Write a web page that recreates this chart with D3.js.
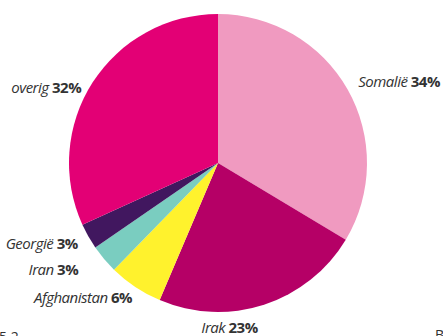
<!DOCTYPE html>
<html>
<head>
<meta charset="utf-8">
<script src="https://cdn.jsdelivr.net/npm/d3@7/dist/d3.min.js"></script>
<style>
html,body{margin:0;padding:0;background:#fff;overflow:hidden;}
svg{display:block;}
text{font-family:"Open Sans",sans-serif;fill:#333;}
</style>
</head>
<body>
<svg id="chart" width="443" height="336"></svg>
<script>
// Data
const categories = ["Somalië", "Irak", "Afghanistan", "Iran", "Georgië", "overig"];
const values = [33.6, 22.8, 5.9, 3.1, 2.8, 31.8];
const colors = ["#f09ac0", "#b50066", "#fff22d", "#7acdc0", "#41175f", "#e30075"];

// Label placement (polar: angle in degrees clockwise from 12 o'clock, radius, anchor)
const labelLayout = {
  "Somalië":     {angle: 60,    r: 162, anchor: "start"},
  "Irak":        {angle: 176,   r: 165, anchor: "middle"},
  "Afghanistan": {angle: 212.5, r: 160, anchor: "end"},
  "Iran":        {angle: 232.6, r: 176, anchor: "end"},
  "Georgië":     {angle: 240,   r: 162, anchor: "end"},
  "overig":      {angle: 298.7, r: 156, anchor: "end"}
};

const cx = 218, cy = 163, radius = 149;
const svg = d3.select("#chart");
const g = svg.append("g").attr("transform", `translate(${cx},${cy})`);

const data = categories.map((c, i) => ({name: c, value: values[i], color: colors[i]}));
const pie = d3.pie().value(d => d.value).sort(null);
const arc = d3.arc().innerRadius(0).outerRadius(radius);
const arcs = pie(data);

g.selectAll("path.slice").data(arcs).enter().append("path")
  .attr("class", "slice")
  .attr("d", arc)
  .attr("fill", d => d.data.color);

const total = d3.sum(values);
const lbl = g.selectAll("text.lbl").data(arcs).enter().append("text")
  .attr("class", "lbl")
  .attr("font-size", 15)
  .attr("letter-spacing", -0.5)
  .attr("text-anchor", d => labelLayout[d.data.name].anchor)
  .attr("x", d => { const L = labelLayout[d.data.name]; return L.r * Math.sin(L.angle * Math.PI / 180); })
  .attr("y", d => { const L = labelLayout[d.data.name]; return -L.r * Math.cos(L.angle * Math.PI / 180) + 5; });
lbl.append("tspan").attr("font-style", "italic").text(d => d.data.name + " ");
lbl.append("tspan").attr("font-weight", "bold")
  .text(d => Math.round(d.data.value / total * 100) + "%");

// cut-off page text at the bottom corners
svg.append("text").attr("x", -1).attr("y", 342).attr("font-size", 14).text("5.2");
svg.append("text").attr("x", 435).attr("y", 340).attr("font-size", 14).text("B");
</script>
</body>
</html>
